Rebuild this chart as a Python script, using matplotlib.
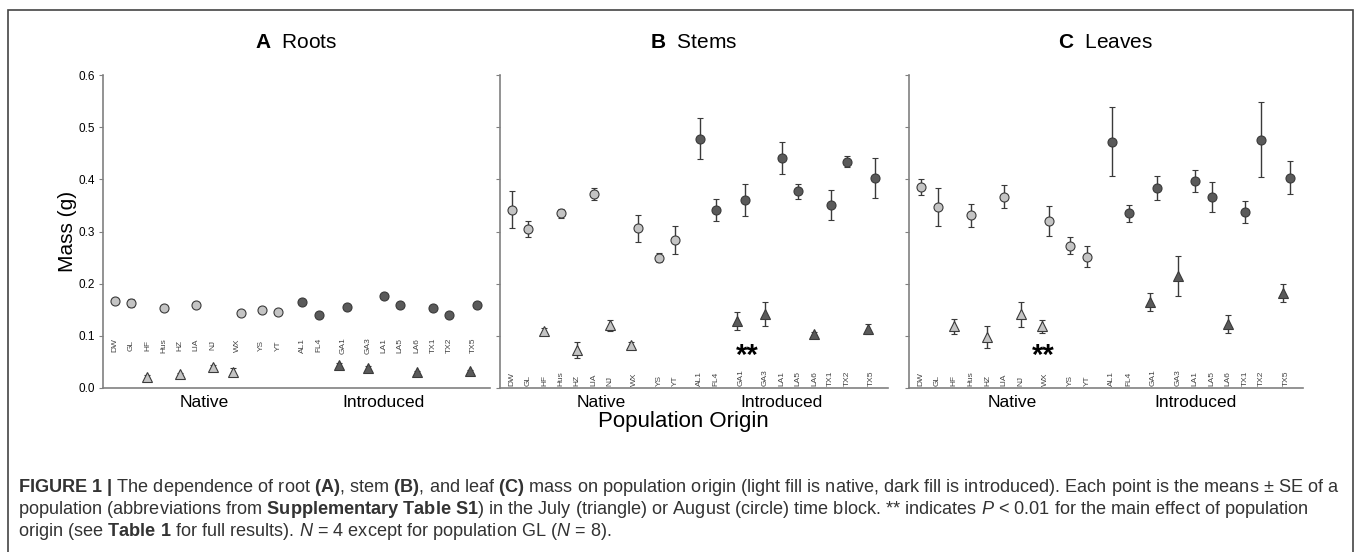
import matplotlib.pyplot as plt
import matplotlib.patches as mpatches
import numpy as np

plt.rcParams['font.family'] = ['Liberation Sans', 'DejaVu Sans']
plt.rcParams['mathtext.fontset'] = 'custom'
plt.rcParams['mathtext.rm'] = 'Liberation Sans'
plt.rcParams['mathtext.bf'] = 'Liberation Sans:bold'
plt.rcParams['mathtext.it'] = 'Liberation Sans:italic'

nan = np.nan

# populations (first 10 native, last 10 introduced)
pops = ['DW', 'GL', 'HF', 'Hus', 'HZ', 'LIA', 'NJ', 'WX', 'YS', 'YT',
        'AL1', 'FL4', 'GA1', 'GA3', 'LA1', 'LA5', 'LA6', 'TX1', 'TX2', 'TX5']
slot = [0, 1, 2, 3, 4, 5, 6, 7.5, 9, 10, 11.5, 12.5, 14, 15.5, 16.5, 17.5, 18.5, 19.5, 20.5, 22]
native_n = 10

# July block (triangles)
roots_jul    = [nan, nan, 0.022, nan, 0.026, nan, 0.040, 0.031, nan, nan, nan, nan, 0.044, 0.039, nan, nan, 0.031, nan, nan, 0.033]
roots_jul_se = [nan, nan, 0.002, nan, 0.003, nan, 0.004, 0.008, nan, nan, nan, nan, 0.003, 0.004, nan, nan, 0.002, nan, nan, 0.002]
stems_jul    = [nan, nan, 0.110, nan, 0.073, nan, 0.120, 0.082, nan, nan, nan, nan, 0.129, 0.142, nan, nan, 0.104, nan, nan, 0.113]
stems_jul_se = [nan, nan, 0.005, nan, 0.015, nan, 0.010, 0.007, nan, nan, nan, nan, 0.017, 0.023, nan, nan, 0.003, nan, nan, 0.009]
leaves_jul    = [nan, nan, 0.118, nan, 0.097, nan, 0.141, 0.118, nan, nan, nan, nan, 0.165, 0.215, nan, nan, 0.123, nan, nan, 0.182]
leaves_jul_se = [nan, nan, 0.014, nan, 0.021, nan, 0.024, 0.013, nan, nan, nan, nan, 0.018, 0.038, nan, nan, 0.017, nan, nan, 0.017]

# August block (circles)
roots_aug    = [0.167, 0.163, nan, 0.153, nan, 0.159, nan, 0.143, 0.149, 0.145, 0.165, 0.140, 0.156, nan, 0.177, 0.159, nan, 0.153, 0.140, 0.159]
roots_aug_se = [0.003, 0.008, nan, 0.004, nan, 0.003, nan, 0.004, 0.003, 0.004, 0.004, 0.003, 0.003, nan, 0.003, 0.004, nan, 0.003, 0.003, 0.003]
stems_aug    = [0.342, 0.305, nan, 0.335, nan, 0.372, nan, 0.306, 0.250, 0.284, 0.478, 0.342, 0.360, nan, 0.441, 0.377, nan, 0.351, 0.434, 0.403]
stems_aug_se = [0.036, 0.015, nan, 0.009, nan, 0.012, nan, 0.026, 0.009, 0.027, 0.039, 0.021, 0.031, nan, 0.030, 0.015, nan, 0.029, 0.010, 0.038]
leaves_aug    = [0.385, 0.347, nan, 0.331, nan, 0.367, nan, 0.320, 0.273, 0.252, 0.472, 0.335, 0.383, nan, 0.397, 0.366, nan, 0.337, 0.476, 0.403]
leaves_aug_se = [0.015, 0.037, nan, 0.022, nan, 0.022, nan, 0.028, 0.017, 0.021, 0.066, 0.016, 0.023, nan, 0.021, 0.029, nan, 0.021, 0.072, 0.032]

panels = [
    ('A', 'Roots', roots_jul, roots_jul_se, roots_aug, roots_aug_se),
    ('B', 'Stems', stems_jul, stems_jul_se, stems_aug, stems_aug_se),
    ('C', 'Leaves', leaves_jul, leaves_jul_se, leaves_aug, leaves_aug_se),
]

light = '#c4c4c4'
dark = '#5a5a5a'
edge = '#3a3a3a'
spine_col = '#808080'

fig = plt.figure(figsize=(13.57, 5.52), dpi=100)
W, H = 1357, 552
ax_px = [(103, 490), (500, 888), (909, 1303)]
top_px, bot_px = 75, 388

for i, (letter, name, jul, jul_se, aug, aug_se) in enumerate(panels):
    x0, x1 = ax_px[i]
    ax = fig.add_axes([x0 / W, 1 - bot_px / H, (x1 - x0) / W, (bot_px - top_px) / H])
    jul = np.array(jul); aug = np.array(aug)
    both = ~np.isnan(jul) & ~np.isnan(aug)
    xs = np.array(slot, dtype=float)
    for j in range(len(pops)):
        fc = light if j < native_n else dark
        if not np.isnan(jul[j]):
            xj = xs[j] - 0.23 if both[j] else xs[j]
            ax.errorbar(xj, jul[j], yerr=jul_se[j], fmt='^', ms=6.5, mfc=fc, mec=edge,
                        mew=0.8, ecolor=edge, elinewidth=1.0, capsize=2.5, capthick=1.0, zorder=3)
        if not np.isnan(aug[j]):
            xa = xs[j] + 0.23 if both[j] else xs[j]
            ax.errorbar(xa, aug[j], yerr=aug_se[j], fmt='o', ms=6.5, mfc=fc, mec=edge,
                        mew=0.8, ecolor=edge, elinewidth=1.0, capsize=2.5, capthick=1.0, zorder=3)

    # population abbreviations
    for j, p in enumerate(pops):
        if i == 0:
            ax.text(xs[j], 0.082, p, rotation=90, ha='center', va='center', fontsize=6, color='#444444')
        else:
            ax.text(xs[j], 0.004, p, rotation=90, ha='center', va='bottom', fontsize=6, color='#444444')

    ax.set_xlim(-0.72, 23.0)
    ax.set_ylim(0, 0.6)
    ax.set_yticks(np.arange(0, 0.61, 0.1))
    if i == 0:
        ax.set_yticklabels([f'{v:.1f}' for v in np.arange(0, 0.61, 0.1)], fontsize=8.5)
        ax.set_ylabel('Mass (g)', fontsize=15, labelpad=1)
    else:
        ax.set_yticklabels([])
    ax.set_xticks([])
    ax.tick_params(axis='y', direction='out', length=3, width=0.8, color=spine_col, pad=3)
    for s in ['top', 'right']:
        ax.spines[s].set_visible(False)
    for s in ['left', 'bottom']:
        ax.spines[s].set_color(spine_col)
        ax.spines[s].set_linewidth(1.2)

    tr = ax.get_xaxis_transform()
    ax.text(5.5, -0.045, 'Native', transform=tr, ha='center', va='center', fontsize=12.5)
    ax.text(16.5, -0.045, 'Introduced', transform=tr, ha='center', va='center', fontsize=12.5)

    fig.text((x0 + x1) / 2 / W, 1 - 43 / H, r'$\mathbf{%s}$  %s' % (letter, name),
             ha='center', va='center', fontsize=15)

    if letter == 'B':
        ax.text(14.4, 0.062, '**', ha='center', va='center', fontsize=21, fontweight='bold')
    if letter == 'C':
        ax.text(7.36, 0.062, '**', ha='center', va='center', fontsize=21, fontweight='bold')

fig.text(683 / W, 1 - 421 / H, 'Population Origin', ha='center', va='center', fontsize=16)

cap1 = (r"$\mathbf{FIGURE\ 1\ |}$ The dependence of root $\mathbf{(A)}$, stem $\mathbf{(B)}$, and leaf "
        r"$\mathbf{(C)}$ mass on population origin (light fill is native, dark fill is introduced). "
        r"Each point is the means ± SE of a")
cap2 = (r"population (abbreviations from $\mathbf{Supplementary\ Table\ S1}$) in the July (triangle) or "
        r"August (circle) time block. ** indicates $\mathit{P}$ < 0.01 for the main effect of population")
cap3 = r"origin (see $\mathbf{Table\ 1}$ for full results). $\mathit{N}$ = 4 except for population GL ($\mathit{N}$ = 8)."
for k, line in enumerate([cap1, cap2, cap3]):
    fig.text(18 / W, 1 - (487 + 22 * k) / H, line, ha='left', va='center', fontsize=13.1, color='#333333')

frame = mpatches.Rectangle((8 / W, -0.02), (1353 - 8) / W, 1.02 - 10 / H, transform=fig.transFigure,
                           fill=False, edgecolor='#444444', linewidth=1.2)
fig.add_artist(frame)

plt.savefig('out.png', dpi=100)
